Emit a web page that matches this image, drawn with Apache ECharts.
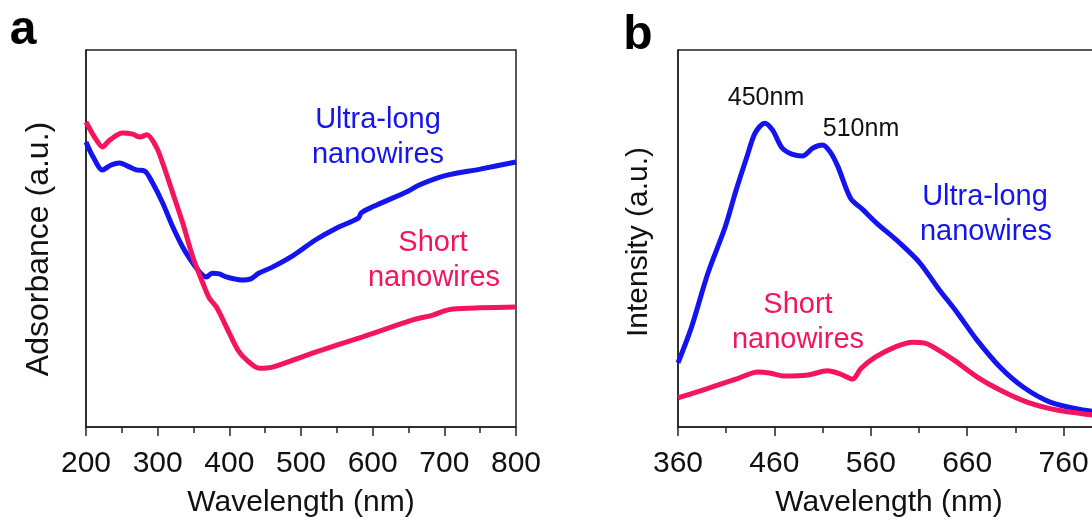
<!DOCTYPE html>
<html>
<head>
<meta charset="utf-8">
<script src="https://cdn.jsdelivr.net/npm/echarts@6/dist/echarts.min.js"></script>
<style>
  html, body { margin: 0; padding: 0; background: #fff; }
  #chart { width: 1092px; height: 523px; }
</style>
</head>
<body>
<div id="chart"></div>
<script>
// ---- Panel a: UV-vis absorbance (a.u.) ----
const absUltraWl  = [200, 210, 223, 235, 247, 258, 270, 282, 293, 307, 321, 335, 349, 360, 368, 376, 386, 396, 418, 430, 441, 460, 490, 520, 550, 580, 584, 600, 650, 665, 700, 750, 800];
const absUltraVal = [75.6, 71.6, 68.2, 69.5, 70.0, 69.2, 68.2, 67.9, 64.7, 59.4, 53.1, 47.7, 43.5, 40.8, 39.8, 40.8, 40.6, 39.8, 39.0, 39.3, 40.8, 42.4, 45.6, 49.6, 52.8, 55.4, 56.8, 58.4, 62.6, 64.2, 66.6, 68.4, 70.3];

const absShortWl  = [200, 212, 223, 233, 251, 265, 275, 285, 298, 307, 321, 335, 349, 363, 372, 382, 400, 412, 424, 442, 460, 516, 586, 656, 684, 700, 712, 749, 800];
const absShortVal = [80.9, 76.9, 74.3, 76.1, 78.0, 77.7, 76.9, 77.5, 74.3, 70.0, 62.1, 54.1, 45.1, 38.2, 34.2, 31.8, 24.9, 20.4, 17.8, 15.6, 15.9, 19.6, 23.9, 28.4, 29.7, 30.8, 31.3, 31.6, 31.8];

// ---- Panel b: photoluminescence intensity (a.u.) ----
const plUltraWl  = [360, 374, 391, 409, 420, 432, 440, 450, 458, 468, 478, 489, 500, 510, 518, 526, 539, 552, 566, 590, 611, 629, 650, 670, 694, 718, 746, 780, 800];
const plUltraVal = [17.0, 26.5, 40.8, 53.1, 62.6, 72.1, 78.0, 80.6, 78.8, 74.0, 72.4, 71.9, 74.0, 74.8, 72.9, 69.0, 60.7, 57.6, 54.1, 48.8, 43.5, 37.1, 30.2, 23.1, 15.9, 10.6, 6.6, 4.5, 4.0];

const plShortWl  = [360, 380, 401, 420, 443, 455, 471, 495, 515, 528, 541, 550, 565, 585, 603, 615, 625, 646, 670, 694, 722, 753, 790, 800];
const plShortVal = [7.7, 9.3, 11.1, 12.7, 14.6, 14.3, 13.5, 13.8, 14.9, 14.1, 12.7, 15.6, 18.6, 21.2, 22.5, 22.3, 21.2, 17.8, 13.3, 9.8, 6.6, 4.5, 3.2, 2.9];

const BLUE = '#1414ee';
const RED = '#f5145e';
const INK = '#111';
const FONT = "'Liberation Sans', Arial, sans-serif";

const pairs = (xs, ys) => xs.map((x, i) => [x, ys[i]]);

function xAxisFor(gridIndex, min, max) {
  return {
    type: 'value', gridIndex, min, max, interval: 100,
    axisLine: { show: true, lineStyle: { color: '#222', width: 1.5 } },
    axisTick: { show: true, length: 9, lineStyle: { color: '#222', width: 1.5 } },
    minorTick: { show: true, splitNumber: 2, length: 6, lineStyle: { color: '#222', width: 1.5 } },
    splitLine: { show: false },
    axisLabel: { fontFamily: FONT, fontSize: 30, color: INK, margin: 22, showMaxLabel: gridIndex === 0 }
  };
}

function yAxisFor(gridIndex) {
  return {
    type: 'value', gridIndex, min: 0, max: 100,
    axisLine: { show: true, lineStyle: { color: '#222', width: 1.5 } },
    axisTick: { show: false },
    axisLabel: { show: false },
    splitLine: { show: false }
  };
}

function lineSeries(xi, data, color) {
  return {
    type: 'line', xAxisIndex: xi, yAxisIndex: xi, data,
    smooth: 0.3, showSymbol: false, symbol: 'none',
    lineStyle: { color, width: 5 }, z: 3
  };
}

function label(text, x, y, color, size, weight, rotation) {
  return {
    type: 'text', x, y, rotation: rotation || 0,
    style: {
      text, fill: color, font: (weight || 'normal') + ' ' + size + 'px ' + FONT,
      textAlign: 'center', textVerticalAlign: 'middle'
    }
  };
}

const chart = echarts.init(document.getElementById('chart'), null, { renderer: 'canvas' });
chart.setOption({
  backgroundColor: '#fff',
  animation: false,
  grid: [
    { left: 86, top: 50, width: 430, height: 377, outerBoundsMode: 'none', containLabel: false,
      show: true, borderColor: '#222', borderWidth: 1.5, backgroundColor: 'transparent' },
    // the right part of this frame runs past the page edge
    { left: 678, top: 50, width: 482, height: 377, outerBoundsMode: 'none', containLabel: false,
      show: true, borderColor: '#222', borderWidth: 1.5, backgroundColor: 'transparent' }
  ],
  xAxis: [ xAxisFor(0, 200, 800), xAxisFor(1, 360, 860) ],
  yAxis: [ yAxisFor(0), yAxisFor(1) ],
  series: [
    lineSeries(0, pairs(absUltraWl, absUltraVal), BLUE),
    lineSeries(0, pairs(absShortWl, absShortVal), RED),
    lineSeries(1, pairs(plUltraWl, plUltraVal), BLUE),
    lineSeries(1, pairs(plShortWl, plShortVal), RED)
  ],
  graphic: [
    // panel letters
    label('a', 23, 31, '#000', 48, 'bold'),
    label('b', 638, 36, '#000', 48, 'bold'),
    // axis titles
    label('Wavelength (nm)', 301, 503, INK, 30),
    label('Wavelength (nm)', 889, 503, INK, 30),
    label('Adsorbance (a.u.)', 39, 249, INK, 32, 'normal', Math.PI / 2),
    label('Intensity (a.u.)', 639, 242, INK, 30, 'normal', Math.PI / 2),
    // curve annotations
    label('Ultra-long', 378, 120, BLUE, 29),
    label('nanowires', 378, 155, BLUE, 29),
    label('Short', 433, 243, RED, 29),
    label('nanowires', 434, 278, RED, 29),
    label('450nm', 766, 98, INK, 25),
    label('510nm', 861, 129, INK, 25),
    label('Ultra-long', 985, 197, BLUE, 29),
    label('nanowires', 986, 232, BLUE, 29),
    label('Short', 798, 305, RED, 29),
    label('nanowires', 798, 340, RED, 29)
  ]
});
</script>
</body>
</html>
